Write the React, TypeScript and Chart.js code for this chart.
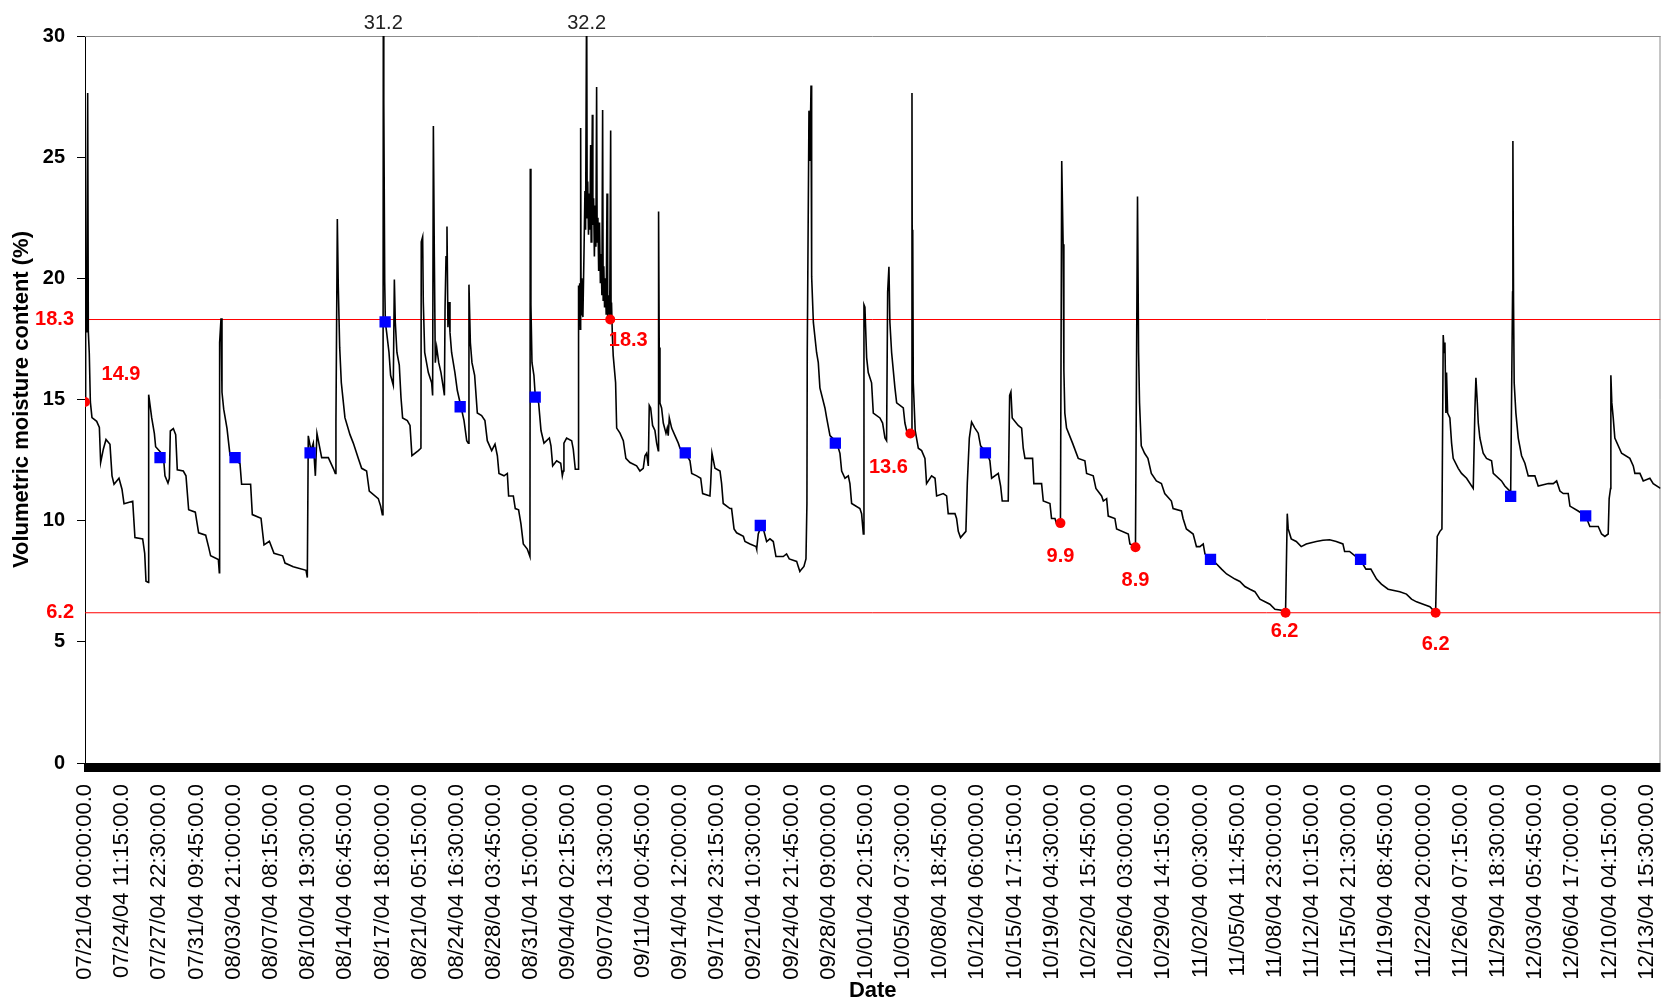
import React, { useEffect, useRef } from "react";
import { Chart, registerables } from "chart.js";

Chart.register(...registerables);

// ---- axis labels (category labels every 333 readings of 15 min = 83.25 h) ----
const tickLabels: string[] = [
  "07/21/04 00:00:00.0", "07/24/04 11:15:00.0", "07/27/04 22:30:00.0", "07/31/04 09:45:00.0",
  "08/03/04 21:00:00.0", "08/07/04 08:15:00.0", "08/10/04 19:30:00.0", "08/14/04 06:45:00.0",
  "08/17/04 18:00:00.0", "08/21/04 05:15:00.0", "08/24/04 16:30:00.0", "08/28/04 03:45:00.0",
  "08/31/04 15:00:00.0", "09/04/04 02:15:00.0", "09/07/04 13:30:00.0", "09/11/04 00:45:00.0",
  "09/14/04 12:00:00.0", "09/17/04 23:15:00.0", "09/21/04 10:30:00.0", "09/24/04 21:45:00.0",
  "09/28/04 09:00:00.0", "10/01/04 20:15:00.0", "10/05/04 07:30:00.0", "10/08/04 18:45:00.0",
  "10/12/04 06:00:00.0", "10/15/04 17:15:00.0", "10/19/04 04:30:00.0", "10/22/04 15:45:00.0",
  "10/26/04 03:00:00.0", "10/29/04 14:15:00.0", "11/02/04 00:30:00.0", "11/05/04 11:45:00.0",
  "11/08/04 23:00:00.0", "11/12/04 10:15:00.0", "11/15/04 21:30:00.0", "11/19/04 08:45:00.0",
  "11/22/04 20:00:00.0", "11/26/04 07:15:00.0", "11/29/04 18:30:00.0", "12/03/04 05:45:00.0",
  "12/06/04 17:00:00.0", "12/10/04 04:15:00.0", "12/13/04 15:30:00.0",
];
const tickStepDays = 83.25 / 24;
const lastDay = 146.98;

// ---- moisture trace: [days since 07/21/04 00:00, volumetric moisture %] ----
const traceJulAug: [number, number][] = [
  [0, 14.9], [0.06, 19.85], [0.12, 17.8], [0.16, 19.85], [0.25, 27.65], [0.31, 17.8], [0.4, 16.9], [0.5, 14.9],
  [0.65, 14.25], [1.09, 14.1], [1.34, 13.85], [1.46, 12.4], [1.71, 12.95], [1.96, 13.35], [2.33, 13.15], [2.52, 11.85],
  [2.71, 11.5], [3.17, 11.75], [3.45, 11.3], [3.64, 10.7], [4.45, 10.8], [4.66, 9.3], [5.38, 9.25], [5.57, 8.65],
  [5.69, 7.5], [5.91, 7.45], [5.94, 15.2], [6.22, 14.25], [6.47, 13.6], [6.59, 13.05], [7.31, 12.7], [7.46, 11.85],
  [7.74, 11.55], [7.87, 11.75], [7.96, 13.7], [8.24, 13.8], [8.46, 13.55], [8.61, 12.1], [9.17, 12.05], [9.42, 11.85],
  [9.67, 10.45], [10.29, 10.35], [10.6, 9.5], [11.26, 9.4], [11.54, 8.9], [11.72, 8.55], [12.44, 8.4], [12.53, 7.85],
  [12.56, 17.35], [12.69, 18.35], [12.78, 15.3], [12.94, 14.6], [13.25, 13.8], [13.53, 12.7], [14.46, 12.35], [14.61, 11.5],
  [15.45, 11.5], [15.61, 10.25], [16.42, 10.1], [16.7, 9.0], [17.2, 9.15], [17.63, 8.65], [18.44, 8.55], [18.66, 8.25],
  [19.43, 8.1], [20.62, 7.95], [20.74, 7.65], [20.83, 13.5], [21.08, 12.9], [21.3, 13.2], [21.49, 11.85], [21.64, 13.6],
  [22.08, 12.6], [22.7, 12.6], [23.17, 12.15], [23.35, 11.95], [23.41, 14.05], [23.54, 22.45], [23.63, 19.65], [23.76, 17.15],
  [23.91, 15.7], [24.25, 14.25], [24.72, 13.55], [25.03, 13.2], [25.5, 12.57], [25.81, 12.16], [26.27, 12.05], [26.52, 11.22],
  [27.36, 10.91], [27.58, 10.6], [27.74, 10.25], [27.8, 10.4], [27.83, 31.2], [27.86, 19.85], [27.89, 27.3], [27.96, 19.85],
  [28.02, 18.2], [28.14, 17.77], [28.36, 16.94], [28.51, 16.0], [28.76, 15.59], [28.86, 19.95], [28.95, 18.18], [29.1, 16.94],
  [29.32, 16.42], [29.48, 15.07], [29.63, 14.24], [30.07, 14.13], [30.32, 13.93], [30.5, 12.68], [31.1, 12.89], [31.34, 12.99],
  [31.37, 21.51], [31.5, 21.72], [31.56, 19.02], [31.69, 16.94], [32.03, 16.11], [32.34, 15.69], [32.43, 15.17], [32.5, 26.29],
  [32.59, 20.89], [32.68, 16.52], [32.81, 17.15], [33.0, 16.52], [33.21, 16.11], [33.43, 15.48], [33.53, 15.17], [33.59, 18.81],
  [33.68, 20.89], [33.77, 22.14], [33.86, 17.98], [33.96, 19.02], [34.05, 17.77], [34.2, 16.94], [34.51, 16.11], [34.73, 15.38],
  [35.08, 14.69], [35.36, 14.13], [35.61, 13.3], [35.76, 13.2], [35.82, 19.74], [35.95, 17.35], [36.1, 16.52], [36.35, 16.0],
  [36.6, 14.44], [37.0, 14.34], [37.31, 14.13], [37.53, 13.3], [37.94, 12.89], [38.25, 13.16], [38.47, 12.68], [38.62, 11.95],
  [39.09, 11.85], [39.4, 11.95], [39.52, 11.02], [39.96, 11.02], [40.14, 10.5], [40.45, 10.45], [40.67, 9.87], [40.89, 9.04],
  [41.26, 8.83], [41.51, 8.52], [41.54, 24.52], [41.6, 18.91], [41.7, 16.52], [41.88, 16.0], [42.01, 15.11],
];

const traceSep: [number, number][] = [
  [42.32, 14.86], [42.54, 13.72], [42.82, 13.2], [43.32, 13.41], [43.47, 13.09], [43.63, 12.26], [44.0, 12.47], [44.38, 12.37],
  [44.53, 11.85], [44.62, 12.05], [44.68, 13.2], [44.93, 13.41], [45.4, 13.3], [45.55, 12.95], [45.74, 12.12], [46.0, 12.12],
  [46.03, 18.0], [46.06, 19.7], [46.1, 18.2], [46.15, 19.8], [46.2, 17.9], [46.24, 26.2], [46.28, 18.5], [46.35, 20.0],
  [46.45, 18.4], [46.55, 21.0], [46.64, 23.6], [46.7, 22.0], [46.8, 32.2], [46.85, 22.5], [46.9, 24.0], [46.97, 21.8],
  [47.05, 23.5], [47.1, 22.0], [47.17, 25.5], [47.22, 21.5], [47.28, 23.8], [47.33, 26.75], [47.38, 22.2], [47.45, 23.3],
  [47.52, 20.9], [47.6, 23.0], [47.66, 21.3], [47.73, 27.9], [47.78, 21.5], [47.85, 22.5], [47.92, 20.3], [48.0, 22.3],
  [48.08, 19.8], [48.15, 21.0], [48.22, 19.3], [48.29, 26.95], [48.34, 19.1], [48.4, 20.5], [48.47, 18.8], [48.55, 20.0],
  [48.62, 18.5], [48.7, 23.5], [48.76, 18.3], [48.85, 19.3], [48.95, 18.4], [49.04, 26.1], [49.08, 18.3], [49.12, 19.0],
  [49.2, 17.6], [49.28, 16.8], [49.5, 15.69], [49.6, 13.82], [49.91, 13.61], [50.22, 13.3], [50.46, 12.57], [50.84, 12.4],
  [51.46, 12.26], [51.77, 12.05], [52.08, 12.16], [52.24, 12.68], [52.39, 12.78], [52.55, 12.26], [52.64, 14.76], [52.77, 14.65],
  [52.95, 13.93], [53.17, 13.72], [53.33, 13.2], [53.48, 12.89], [53.51, 22.76], [53.57, 17.15], [53.64, 14.86], [53.79, 14.65],
  [53.95, 14.03], [54.2, 13.61], [54.32, 13.82], [54.41, 13.51], [54.51, 14.24], [54.73, 13.82], [55.04, 13.51], [55.35, 13.2],
  [55.51, 12.99], [56.0, 12.8], [56.44, 12.47], [56.6, 11.95], [57.07, 11.85], [57.44, 11.75], [57.62, 11.12], [58.3, 11.02],
  [58.37, 11.53], [58.49, 12.78], [58.77, 12.16], [59.24, 12.05], [59.39, 11.53], [59.54, 10.71], [60.17, 10.5], [60.32, 10.5],
  [60.55, 9.66], [60.79, 9.5], [61.42, 9.35], [61.57, 9.14], [62.04, 9.04], [62.6, 8.93], [62.66, 8.83], [62.81, 9.45],
  [63.06, 9.76], [63.28, 9.66], [63.59, 9.14], [63.9, 9.25], [64.21, 9.14], [64.46, 8.52], [65.14, 8.52], [65.45, 8.63],
  [65.7, 8.42], [66.39, 8.32], [66.54, 8.11], [66.69, 7.9], [66.85, 8.0], [67.07, 8.11], [67.26, 8.42], [67.35, 10.71],
  [67.38, 16.94], [67.54, 26.92], [67.63, 24.84], [67.73, 27.96], [67.79, 20.07], [67.95, 18.18], [68.25, 16.94], [68.41, 16.52],
  [68.56, 15.48], [69.03, 14.65], [69.19, 14.24], [69.5, 13.51], [70.12, 13.24], [70.43, 12.78], [70.59, 12.05], [70.9, 11.75],
  [71.21, 11.85], [71.36, 11.53], [71.52, 10.71], [72.29, 10.5], [72.45, 10.29], [72.61, 9.45],
];

const traceOct: [number, number][] = [
  [72.67, 18.91], [72.76, 18.81], [72.92, 16.73], [73.07, 16.11], [73.38, 15.69], [73.54, 14.44], [74.16, 14.24], [74.41, 14.03],
  [74.63, 13.41], [74.78, 13.3], [74.88, 19.43], [75.0, 20.48], [75.09, 18.18], [75.25, 16.94], [75.56, 15.48], [75.72, 14.86],
  [76.34, 14.65], [76.49, 14.03], [76.71, 13.61], [77.05, 13.65], [77.12, 13.7], [77.15, 27.65], [77.19, 15.7], [77.22, 22.0],
  [77.27, 15.69], [77.45, 13.72], [77.74, 12.99], [78.05, 12.89], [78.36, 12.57], [78.51, 11.53], [78.98, 11.85], [79.3, 11.75],
  [79.45, 11.02], [80.07, 11.12], [80.38, 11.02], [80.53, 10.29], [81.16, 10.29], [81.31, 10.09], [81.47, 9.56], [81.68, 9.3],
  [82.18, 9.56], [82.31, 11.53], [82.5, 13.41], [82.71, 14.07], [83.02, 13.82], [83.33, 13.61], [83.55, 13.09], [84.11, 12.8],
  [84.42, 12.47], [84.58, 11.75], [85.2, 11.95], [85.42, 11.43], [85.57, 10.81], [86.13, 10.81], [86.26, 15.17], [86.38, 15.32],
  [86.5, 14.24], [87.06, 13.93], [87.38, 13.82], [87.53, 12.99], [87.69, 12.57], [88.4, 12.57], [88.52, 11.53], [89.24, 11.53],
  [89.4, 10.81], [90.02, 10.71], [90.17, 10.09], [90.49, 10.09], [90.64, 9.87], [91.0, 9.87], [91.12, 24.84], [91.25, 21.41],
  [91.32, 16.21], [91.41, 14.44], [91.57, 13.82], [92.13, 13.2], [92.66, 12.57], [93.28, 12.47], [93.44, 11.95], [94.06, 11.85],
  [94.31, 11.33], [94.84, 11.02], [95.0, 10.81], [95.31, 10.91], [95.46, 10.19], [96.08, 10.09], [96.24, 9.66], [97.33, 9.45],
  [97.48, 9.04], [98.0, 8.93], [98.19, 23.38], [98.29, 16.94], [98.38, 14.86], [98.54, 13.09], [98.85, 12.78], [99.16, 12.57],
  [99.48, 11.95], [99.95, 11.64], [100.42, 11.53], [100.73, 11.12], [101.35, 10.81], [101.51, 10.5], [102.29, 10.4], [102.44, 10.09],
  [102.75, 9.66], [103.38, 9.45], [103.69, 8.93],
];

const traceNovDec: [number, number][] = [
  [104.01, 8.93], [104.32, 9.04], [104.48, 8.63], [105.04, 8.42], [105.57, 8.21], [106.03, 8.0], [106.5, 7.8], [107.28, 7.59],
  [107.74, 7.49], [108.21, 7.28], [108.68, 7.17], [109.14, 7.07], [109.61, 6.76], [110.54, 6.55], [111.01, 6.34], [111.63, 6.3],
  [112.0, 6.2], [112.16, 10.29], [112.25, 9.66], [112.53, 9.25], [113.0, 9.14], [113.46, 8.93], [113.93, 9.04], [114.86, 9.14],
  [115.49, 9.19], [116.11, 9.21], [116.73, 9.14], [117.35, 9.04], [117.51, 8.73], [117.97, 8.73], [119.0, 8.36], [119.5, 8.0],
  [119.96, 8.0], [120.49, 7.59], [120.94, 7.38], [121.57, 7.17], [122.66, 7.07], [123.28, 6.97], [123.75, 6.76], [124.22, 6.65],
  [124.84, 6.55], [125.47, 6.45], [126.0, 6.2], [126.15, 9.35], [126.4, 9.56], [126.59, 9.66], [126.71, 17.66], [126.8, 16.94],
  [126.87, 17.35], [126.96, 14.44], [127.02, 16.11], [127.12, 14.44], [127.33, 14.24], [127.49, 13.2], [127.64, 12.57], [128.11, 12.16],
  [128.42, 11.95], [128.89, 11.75], [129.51, 11.33], [129.67, 14.65], [129.76, 15.9], [129.89, 14.86], [129.98, 14.03], [130.13, 13.41],
  [130.44, 12.78], [130.75, 12.57], [131.22, 12.47], [131.38, 11.95], [132.15, 11.64], [132.46, 11.43], [132.93, 11.22], [133.0, 11.02],
  [133.18, 19.43], [133.21, 25.67], [133.27, 19.02], [133.33, 15.69], [133.49, 14.44], [133.71, 13.41], [134.02, 12.68], [134.33, 12.37],
  [134.64, 11.85], [135.26, 11.85], [135.57, 11.43], [136.51, 11.53], [136.98, 11.53], [137.29, 11.64], [137.6, 11.22], [137.91, 11.12],
  [138.37, 11.12], [138.53, 10.6], [139.3, 10.4], [140.0, 10.19], [140.39, 9.76], [141.17, 9.76], [141.48, 9.45], [141.79, 9.35],
  [142.1, 9.45], [142.19, 10.91], [142.32, 11.33], [142.35, 16.0], [142.44, 14.86], [142.57, 14.24], [142.72, 13.41], [143.35, 12.78],
  [144.12, 12.57], [144.44, 12.26], [144.59, 11.95], [145.06, 11.95], [145.37, 11.64], [145.99, 11.75], [146.3, 11.53], [146.98, 11.33],
];

// ---- weekly sample markers ----
const weekDays: number[] = [0, 7, 14, 21, 28, 35, 42, 49, 56, 63, 70, 77, 84, 91, 98, 105, 112, 119, 126, 133, 140];
const weekValues: number[] = [14.9, 12.6, 12.6, 12.8, 18.2, 14.7, 15.1, 18.3, 12.8, 9.8, 13.2, 13.6, 12.8, 9.9, 8.9, 8.4, 6.2, 8.4, 6.2, 11.0, 10.2];
const highlightedWeeks: number[] = [0, 7, 11, 13, 14, 16, 18];

// ---- reference levels and clipped peaks ----
const referenceLevels: number[] = [18.3, 6.2];
const peakDays: number[] = [27.83, 46.8];
const peakValues: number[] = [31.2, 32.2];

const FONT = '"Liberation Sans", Arial, Helvetica, sans-serif';
const redLabelOffsets: [number, number][] = [[36, -27], [18, 21], [-22, 34], [0, 33], [0, 33], [-1, 19], [0, 32]];

export default function App() {
  const ref = useRef<HTMLCanvasElement | null>(null);

  useEffect(() => {
    const canvas = ref.current;
    if (!canvas) return;

    const trace = [...traceJulAug, ...traceSep, ...traceOct, ...traceNovDec].map(([x, y]) => ({ x, y }));
    const bluePts = weekDays
      .map((d, i) => ({ x: d, y: weekValues[i] }))
      .filter((_, i) => !highlightedWeeks.includes(i));
    const redPts = highlightedWeeks.map((i) => ({ x: weekDays[i], y: weekValues[i] }));
    const refSets = referenceLevels.map((v) => ({
      data: [{ x: 0, y: v }, { x: lastDay, y: v }],
      borderColor: "#ff0000",
      borderWidth: 1,
      pointRadius: 0,
      order: 3,
    }));

    const overlay = {
      id: "overlay",
      beforeDatasetsDraw(chart: any) {
        const { ctx, chartArea: a } = chart;
        ctx.save();
        ctx.strokeStyle = "#8c8c8c";
        ctx.lineWidth = 1;
        ctx.beginPath();
        ctx.moveTo(a.left, a.top + 0.5);
        ctx.lineTo(a.right, a.top + 0.5);
        ctx.moveTo(a.right - 0.5, a.top);
        ctx.lineTo(a.right - 0.5, a.bottom);
        ctx.stroke();
        ctx.restore();
      },
      afterDraw(chart: any) {
        const { ctx, chartArea: a, scales } = chart;
        const xs = scales.x;
        const ys = scales.y;
        ctx.save();
        ctx.fillStyle = "#000";
        ctx.fillRect(a.left - 1, a.bottom, a.right - a.left + 1, 9);

        ctx.font = `bold 20px ${FONT}`;
        ctx.fillStyle = "#ff0000";
        ctx.textAlign = "right";
        ctx.textBaseline = "middle";
        referenceLevels.forEach((v) => ctx.fillText(v.toFixed(1), a.left - 11, ys.getPixelForValue(v)));

        ctx.textAlign = "center";
        highlightedWeeks.forEach((w, i) => {
          const [dx, dy] = redLabelOffsets[i];
          ctx.fillText(
            weekValues[w].toFixed(1),
            xs.getPixelForValue(weekDays[w]) + dx,
            ys.getPixelForValue(weekValues[w]) + dy
          );
        });

        ctx.font = `20px ${FONT}`;
        ctx.fillStyle = "#222";
        ctx.textBaseline = "alphabetic";
        peakDays.forEach((d, i) => ctx.fillText(peakValues[i].toFixed(1), xs.getPixelForValue(d), a.top - 7));
        ctx.restore();
      },
    };

    const chart = new Chart(canvas, {
      type: "line",
      data: {
        datasets: [
          {
            data: redPts,
            showLine: false,
            pointStyle: "circle",
            pointRadius: 5,
            pointBackgroundColor: "#ff0000",
            pointBorderColor: "#ff0000",
            pointBorderWidth: 0,
            order: 0,
          },
          {
            data: bluePts,
            showLine: false,
            pointStyle: "rect",
            pointRadius: 8,
            pointBackgroundColor: "#0000ff",
            pointBorderColor: "#0000ff",
            pointBorderWidth: 0,
            order: 1,
          },
          {
            data: trace,
            borderColor: "#000",
            borderWidth: 1.6,
            pointRadius: 0,
            tension: 0,
            order: 2,
          },
          ...refSets,
        ] as any,
      },
      options: {
        animation: false,
        responsive: false,
        plugins: { legend: { display: false }, tooltip: { enabled: false } },
        layout: { autoPadding: false, padding: { left: 0, top: 36, right: 1.5, bottom: 0 } },
        scales: {
          x: {
            type: "linear",
            min: 0,
            max: lastDay,
            afterBuildTicks: (s: any) => {
              s.ticks = tickLabels.map((_, i) => ({ value: i * tickStepDays }));
            },
            afterFit: (s: any) => {
              s.height = 240;
              s.paddingLeft = 0;
              s.paddingRight = 0;
            },
            grid: { display: false, drawTicks: false },
            border: { display: false },
            ticks: {
              autoSkip: false,
              maxRotation: 90,
              minRotation: 90,
              padding: 21,
              color: "#000",
              font: { family: FONT, size: 22 },
              callback: (_v: any, i: number) => tickLabels[i],
            },
            title: {
              display: true,
              text: "Date",
              color: "#000",
              font: { family: FONT, size: 22, weight: "bold", lineHeight: 1 },
              padding: { top: 0, bottom: 1 },
            },
          },
          y: {
            type: "linear",
            min: 0,
            max: 30,
            afterFit: (s: any) => {
              s.width = 85;
              s.paddingTop = 0;
              s.paddingBottom = 0;
            },
            ticks: {
              stepSize: 5,
              padding: 12,
              color: "#000",
              font: { family: FONT, size: 20, weight: "bold" },
            },
            grid: { drawOnChartArea: false, drawTicks: true, tickLength: 8, color: "#000", lineWidth: 1 },
            border: { display: true, color: "#000", width: 1 },
            title: {
              display: true,
              text: "Volumetric moisture content (%)",
              color: "#000",
              font: { family: FONT, size: 22, weight: "bold", lineHeight: 1 },
              padding: { top: 11, bottom: 0 },
            },
          },
        },
      } as any,
      plugins: [overlay],
    });

    return () => chart.destroy();
  }, []);

  return (
    <div style={{ position: "absolute", left: 0, top: 0, width: 1662, height: 1003, background: "#fff" }}>
      <canvas ref={ref} width={1662} height={1003} style={{ display: "block" }} />
    </div>
  );
}
